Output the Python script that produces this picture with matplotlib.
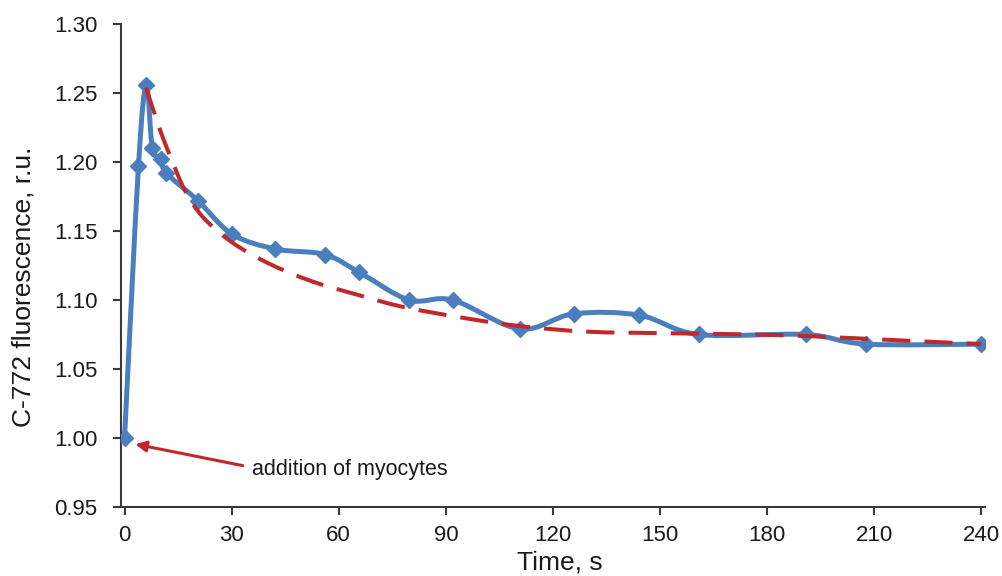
import numpy as np
import matplotlib
matplotlib.use("Agg")
import matplotlib.pyplot as plt
from matplotlib.path import Path
from matplotlib.patches import PathPatch

plt.rcParams['font.family'] = ['Liberation Sans', 'DejaVu Sans']

# mesures (temps en s, fluorescence en u.r.)
time_s = [0, 3.9, 6.1, 7.8, 10.3, 11.7, 20.6, 30, 42.2, 56.1, 65.8, 79.7,
          91.9, 110.8, 125.8, 144.2, 160.8, 190.8, 207.8, 240]
fluo = [1.000, 1.197, 1.256, 1.210, 1.202, 1.192, 1.172, 1.148, 1.137, 1.133,
        1.120, 1.100, 1.100, 1.079, 1.090, 1.089, 1.075, 1.075, 1.068, 1.068]

# courbe d'ajustement
fit_t = [6, 10, 13, 17, 22, 30, 40, 52, 65, 78, 95, 111, 130, 150, 184, 215, 240]
fit_y = [1.254, 1.223, 1.203, 1.179, 1.160, 1.142, 1.127, 1.114, 1.104, 1.095,
         1.087, 1.081, 1.077, 1.076, 1.0745, 1.071, 1.068]

x_ticks = [0, 30, 60, 90, 120, 150, 180, 210, 240]
y_ticks = [0.95, 1.00, 1.05, 1.10, 1.15, 1.20, 1.25, 1.30]

blue = '#4a7ebf'
red = '#c0282a'
axis_col = '#3a3a3a'


def smooth_path(xs, ys, k=1 / 6):
    # courbe lissee type Excel (Catmull-Rom -> Bezier)
    pts = np.column_stack([xs, ys])
    verts = [pts[0]]
    codes = [Path.MOVETO]
    n = len(pts)
    for i in range(n - 1):
        p0 = pts[i - 1] if i > 0 else pts[i]
        p1, p2 = pts[i], pts[i + 1]
        p3 = pts[i + 2] if i + 2 < n else pts[i + 1]
        c1 = p1 + (p2 - p0) * k
        c2 = p2 - (p3 - p1) * k
        verts += [c1, c2, p2]
        codes += [Path.CURVE4] * 3
    return Path(verts, codes)


fig = plt.figure(figsize=(10.03, 5.76), dpi=100)
ax = fig.add_axes([0.1206, 0.12, 0.8614, 0.838])

ax.add_patch(PathPatch(smooth_path(time_s, fluo), fill=False, edgecolor=blue,
                       lw=3.6, capstyle='round', joinstyle='round', zorder=2))
ax.plot(time_s, fluo, ls='none', marker='D', ms=8.5, color=blue, zorder=3)
ax.add_patch(PathPatch(smooth_path(fit_t, fit_y), fill=False, edgecolor=red,
                       lw=2.9, linestyle=(0, (7, 3.5)), zorder=4))

ax.annotate('addition of myocytes', xy=(3.0, 0.9955), xytext=(35.8, 0.977),
            fontsize=15.5, va='center', ha='left', color='#1a1a1a',
            bbox=dict(facecolor='white', edgecolor='none', pad=5),
            arrowprops=dict(arrowstyle='-|>', color=red, lw=2.2,
                            mutation_scale=16, shrinkA=2, shrinkB=0,
                            relpos=(0, 0.6)))

ax.set_xlim(-1, 241)
ax.set_ylim(0.95, 1.30)
ax.set_xticks(x_ticks)
ax.set_yticks(y_ticks)
ax.set_yticklabels([f'{v:.2f}' for v in y_ticks])
ax.tick_params(labelsize=16, width=1.5, length=6, color=axis_col,
               labelcolor='#1a1a1a')
ax.tick_params(axis='y', pad=11)
ax.tick_params(axis='x', pad=7)
ax.spines['top'].set_visible(False)
ax.spines['right'].set_visible(False)
for s in ('left', 'bottom'):
    ax.spines[s].set_linewidth(1.5)
    ax.spines[s].set_color(axis_col)

ax.set_xlabel('Time, s', fontsize=19, color='#1a1a1a', va='center')
ax.set_ylabel('C-772 fluorescence, r.u.', fontsize=19, color='#1a1a1a',
              va='center')
ax.xaxis.set_label_coords(0.508, -0.116)
ax.yaxis.set_label_coords(-0.113, 0.455)

fig.savefig('out.png', dpi=100)
